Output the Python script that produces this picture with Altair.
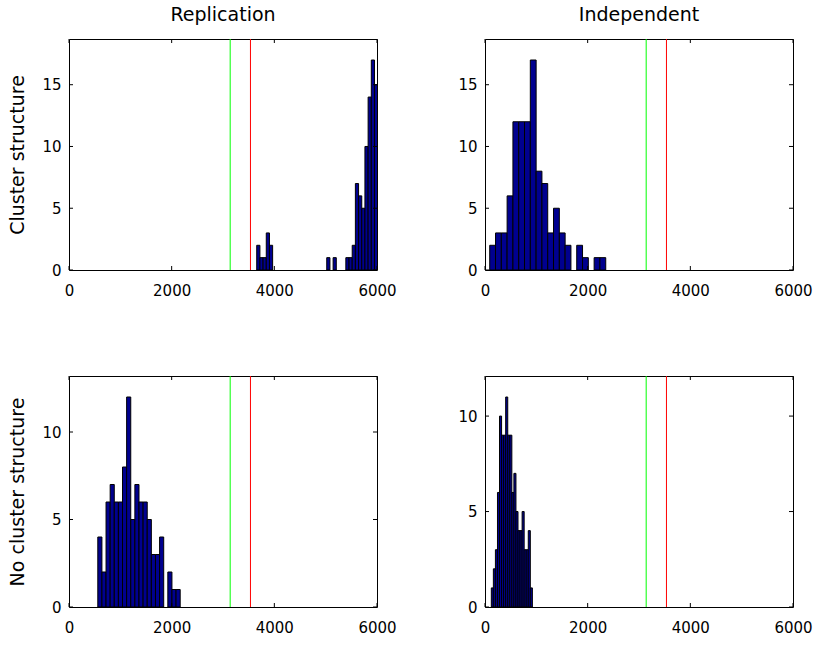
import altair as alt
import pandas as pd

# ---------------- data ----------------
# histogram counts per panel (consecutive equal-width bins)
tl_start, tl_width = 3657, 62
tl_counts = [2, 1, 1, 3, 2, 0, 0, 0, 0, 0, 0, 0, 0, 0, 0, 0, 0, 0, 0, 0, 0, 0,
             1, 0, 1, 0, 0, 0, 1, 1, 2, 7, 6, 5, 10, 14, 17, 15]

tr_start, tr_width = 92, 113
tr_counts = [2, 3, 3, 6, 12, 12, 12, 17, 8, 7, 3, 5, 3, 2, 0, 2, 1, 0, 1, 1]

bl_start, bl_width = 561, 80.25
bl_counts = [4, 2, 6, 7, 6, 6, 8, 12, 5, 7, 6, 6, 5, 3, 3, 4, 0, 2, 1, 1]

br_start, br_width = 123, 40
br_counts = [1, 2, 3, 6, 10, 9, 9, 11, 9, 9, 6, 7, 5, 4, 4, 5, 3, 3, 4, 1]

# reference lines (same in every panel)
line_x = [3140, 3535]
line_colors = ["#00ff00", "#ff0000"]

x_ticks = [0, 2000, 4000, 6000]
y_ticks_top = [0, 5, 10, 15]
y_ticks_bottom = [0, 5, 10]

col_titles = ["Replication", "Independent"]
row_titles = ["Cluster structure", "No cluster structure"]

# ---------------- styling ----------------
W, H = 308, 231
BAR = "#00008f"
FONT = "DejaVu Sans"
TICK = 4


def panel(start, width, counts, yticks, title=None, ytitle=None):
    ymax = max(counts) * 1.1
    df = pd.DataFrame({
        "lo": [start + i * width for i in range(len(counts))],
        "hi": [start + (i + 1) * width for i in range(len(counts))],
        "count": counts,
    })
    df = df[df["count"] > 0]
    xs = alt.Scale(domain=[0, 6000], nice=False, zero=False)
    ys = alt.Scale(domain=[0, ymax], nice=False, zero=False)

    xaxis = alt.Axis(values=x_ticks, format="d", title=None, ticks=False, tickSize=0,
                     domain=False, grid=False, labelPadding=13, labelFont=FONT,
                     labelFontSize=15, labelColor="black", labelFlush=False,
                     labelOverlap=False)
    yaxis = alt.Axis(values=yticks, format="d", title=ytitle if ytitle else None,
                     ticks=False, tickSize=0, domain=False, grid=False, labelPadding=8,
                     labelFont=FONT, labelFontSize=15, labelColor="black",
                     labelFlush=False, titleFont=FONT, titleFontSize=19,
                     titleFontWeight="normal", titleColor="black", titlePadding=14)

    bars = alt.Chart(df).mark_rect(fill=BAR, stroke="black", strokeWidth=1, clip=True).encode(
        x=alt.X("lo:Q", scale=xs, axis=xaxis),
        x2="hi:Q",
        y=alt.Y("count:Q", scale=ys, axis=yaxis),
        y2=alt.datum(0),
    )

    ldf = pd.DataFrame({"x": line_x, "c": line_colors})
    lines = alt.Chart(ldf).mark_rule(strokeWidth=1).encode(
        x=alt.X("x:Q", scale=xs, axis=xaxis),
        color=alt.Color("c:N", scale=None),
    )

    xt = pd.DataFrame({"v": x_ticks})
    yt = pd.DataFrame({"v": yticks})
    tb = alt.Chart(xt).mark_rule(color="black", strokeWidth=1).encode(
        x=alt.X("v:Q", scale=xs, axis=xaxis), y=alt.value(H), y2=alt.value(H - TICK))
    tt = alt.Chart(xt).mark_rule(color="black", strokeWidth=1).encode(
        x=alt.X("v:Q", scale=xs, axis=xaxis), y=alt.value(0), y2=alt.value(TICK))
    tl = alt.Chart(yt).mark_rule(color="black", strokeWidth=1).encode(
        y=alt.Y("v:Q", scale=ys, axis=yaxis), x=alt.value(0), x2=alt.value(TICK))
    tr = alt.Chart(yt).mark_rule(color="black", strokeWidth=1).encode(
        y=alt.Y("v:Q", scale=ys, axis=yaxis), x=alt.value(W), x2=alt.value(W - TICK))

    layer = alt.layer(bars, lines, tb, tt, tl, tr)
    props = dict(width=W, height=H)
    if title:
        props["title"] = alt.TitleParams(title, font=FONT, fontSize=19, fontWeight="normal",
                                         color="black", offset=14)
    return layer.properties(**props)


p1 = panel(tl_start, tl_width, tl_counts, y_ticks_top, title=col_titles[0], ytitle=row_titles[0])
p2 = panel(tr_start, tr_width, tr_counts, y_ticks_top, title=col_titles[1])
p3 = panel(bl_start, bl_width, bl_counts, y_ticks_bottom, ytitle=row_titles[1])
p4 = panel(br_start, br_width, br_counts, y_ticks_bottom)

chart = alt.concat(
    p1, p2, p3, p4, columns=2,
    spacing=alt.RowColnumber(row=106, column=108), bounds="flush",
).properties(
    padding={"left": 8, "top": 5, "right": 5, "bottom": 5},
    background="white",
).configure_view(stroke="black", strokeWidth=1)

chart.save("out.html", embed_options={"renderer": "svg", "actions": False})
